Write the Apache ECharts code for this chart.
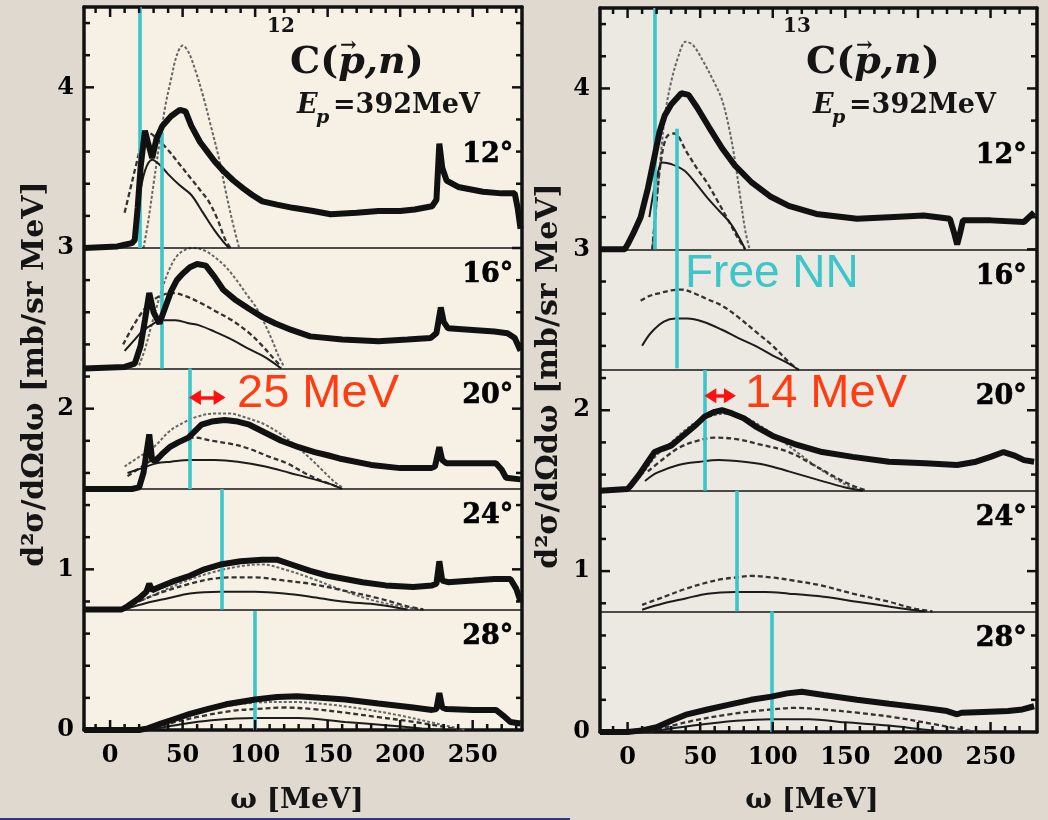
<!DOCTYPE html>
<html><head><meta charset="utf-8">
<script src="https://cdn.jsdelivr.net/npm/echarts@6/dist/echarts.min.js"></script>
<style>html,body{margin:0;padding:0;background:#e0d9cf}#c{width:1048px;height:820px}</style>
</head><body><div id="c"></div>
<script>
// ---- labels / categories ----
const angles = ['12°','16°','20°','24°','28°'];
const baselines = [3.0, 2.25, 1.5, 0.75, 0];
const xTickVals = [-10,0,10,20,30,40,50,60,70,80,90,100,110,120,130,140,150,160,170,180,190,200,210,220,230,240,250,260,270,280];
const yTickVals = [0,0.2,0.4,0.6,0.8,1,1.2,1.4,1.6,1.8,2,2.2,2.4,2.6,2.8,3,3.2,3.4,3.6,3.8,4,4.2,4.4];

// ---- 12C(p,n) : [omega, value] ----
const L12data = [[-18,3.0],[5,3.01],[10,3.02],[15,3.03],[17,3.05],[19,3.25],[21,3.5],[24,3.73],[26,3.66],[29,3.56],[32,3.68],[36,3.76],[42,3.82],[48,3.86],[52,3.85],[56,3.76],[62,3.66],[67,3.6],[72,3.54],[78,3.48],[85,3.42],[92,3.37],[98,3.33],[105,3.29],[115,3.27],[126,3.25],[140,3.23],[152,3.21],[170,3.22],[185,3.23],[200,3.23],[210,3.24],[222,3.26],[225,3.3],[227,3.65],[229,3.5],[232,3.42],[240,3.38],[257,3.35],[270,3.34],[279,3.34],[281,3.25],[283,3.12]];
const L12dot  = [[23,3.0],[26,3.15],[30,3.4],[34,3.65],[38,3.88],[42,4.05],[46,4.2],[50,4.26],[54,4.22],[59,4.1],[64,3.95],[70,3.74],[75,3.56],[80,3.34],[85,3.14],[89,3.0]];
const L12dash = [[10,3.22],[14,3.37],[18,3.52],[22,3.66],[25,3.72],[30,3.7],[39,3.62],[48,3.52],[56,3.43],[63,3.35],[68,3.29],[74,3.18],[79,3.06],[83,3.0]];
const L12sol  = [[20,3.3],[24,3.48],[29,3.55],[34,3.52],[40,3.46],[48,3.39],[56,3.33],[64,3.22],[72,3.11],[78,3.04],[82,3.0]];

const L16data = [[-18,2.25],[10,2.26],[17,2.28],[21,2.39],[24,2.55],[27,2.72],[30,2.6],[34,2.53],[38,2.63],[42,2.73],[46,2.8],[50,2.84],[55,2.88],[60,2.9],[66,2.89],[72,2.82],[78,2.74],[86,2.68],[96,2.62],[105,2.57],[114,2.53],[125,2.49],[138,2.45],[160,2.43],[185,2.42],[205,2.43],[221,2.44],[225,2.47],[228,2.63],[230,2.54],[233,2.5],[250,2.49],[265,2.48],[274,2.47],[279,2.44],[283,2.36]];
const L16dot  = [[20,2.27],[24,2.37],[28,2.5],[32,2.63],[36,2.75],[41,2.87],[46,2.95],[52,2.99],[58,3.0],[66,2.98],[74,2.93],[80,2.88],[88,2.79],[95,2.7],[100,2.64],[106,2.54],[112,2.42],[116,2.33],[120,2.26]];
const L16dash = [[9,2.4],[15,2.5],[22,2.6],[28,2.66],[34,2.7],[43,2.72],[52,2.7],[62,2.66],[72,2.61],[84,2.55],[96,2.47],[104,2.4],[112,2.32],[118,2.26]];
const L16sol  = [[10,2.36],[16,2.42],[22,2.48],[30,2.53],[36,2.55],[45,2.55],[55,2.53],[61,2.52],[72,2.48],[84,2.43],[96,2.37],[105,2.33],[112,2.29],[118,2.25]];

const L20data = [[-18,1.5],[15,1.5],[20,1.51],[23,1.6],[25,1.72],[27,1.84],[29,1.68],[32,1.68],[36,1.72],[41,1.76],[47,1.79],[54,1.82],[63,1.9],[70,1.92],[79,1.93],[88,1.92],[96,1.9],[107,1.85],[118,1.8],[130,1.76],[141,1.73],[150,1.71],[158,1.69],[180,1.65],[200,1.63],[221,1.63],[224,1.64],[227,1.76],[229,1.68],[232,1.66],[250,1.66],[266,1.66],[270,1.62],[273,1.57],[283,1.56]];
const L20dot  = [[10,1.64],[20,1.7],[30,1.76],[41,1.86],[50,1.91],[60,1.95],[72,1.97],[82,1.97],[95,1.94],[107,1.9],[118,1.84],[128,1.77],[138,1.69],[146,1.62],[154,1.55],[160,1.51]];
const L20dash = [[12,1.58],[22,1.64],[32,1.7],[42,1.76],[50,1.8],[58,1.82],[70,1.8],[84,1.78],[96,1.75],[110,1.7],[122,1.66],[134,1.6],[146,1.55],[158,1.51]];
const L20sol  = [[12,1.6],[22,1.63],[32,1.66],[42,1.67],[55,1.68],[72,1.68],[88,1.67],[107,1.64],[124,1.6],[141,1.56],[152,1.53],[160,1.5]];

const L24data = [[-18,0.75],[8,0.75],[12,0.77],[20,0.82],[25,0.86],[27,0.91],[29,0.87],[34,0.89],[45,0.93],[55,0.96],[65,1.0],[76,1.03],[90,1.05],[105,1.06],[115,1.06],[125,1.03],[138,0.99],[150,0.96],[162,0.94],[174,0.92],[190,0.9],[209,0.89],[222,0.9],[225,0.91],[227,1.05],[229,0.93],[233,0.92],[250,0.93],[265,0.94],[276,0.94],[280,0.88],[283,0.8]];
const L24dot  = [[10,0.76],[30,0.84],[50,0.92],[70,0.98],[90,1.02],[105,1.03],[120,1.0],[140,0.94],[160,0.87],[180,0.81],[200,0.77],[215,0.75]];
const L24dash = [[10,0.76],[25,0.82],[40,0.87],[55,0.91],[70,0.94],[85,0.95],[100,0.95],[120,0.93],[138,0.91],[160,0.87],[185,0.82],[205,0.77],[216,0.75]];
const L24sol  = [[10,0.75],[25,0.79],[40,0.82],[55,0.85],[76,0.86],[100,0.86],[120,0.85],[138,0.83],[160,0.8],[185,0.78],[205,0.75]];

const L28data = [[-18,0],[20,0],[26,0.01],[35,0.04],[45,0.07],[55,0.1],[67,0.13],[80,0.16],[100,0.19],[115,0.205],[129,0.21],[145,0.2],[162,0.19],[185,0.165],[209,0.14],[222,0.125],[225,0.13],[227,0.23],[229,0.14],[232,0.13],[250,0.125],[266,0.125],[271,0.09],[276,0.05],[283,0.04]];
const L28dot  = [[26,0],[50,0.08],[75,0.14],[100,0.17],[125,0.175],[150,0.16],[175,0.13],[200,0.09],[225,0.04],[245,0.0]];
const L28dash = [[26,0],[45,0.05],[65,0.09],[85,0.12],[100,0.13],[120,0.14],[140,0.13],[160,0.11],[185,0.08],[210,0.05],[230,0.02],[242,0]];
const L28sol  = [[26,0],[45,0.03],[70,0.06],[100,0.075],[130,0.075],[162,0.05],[190,0.03],[215,0.01],[230,0]];

// ---- 13C(p,n) ----
const R12data = [[-19,3.0],[-2,3.0],[0,3.03],[4,3.1],[9,3.2],[14,3.38],[18.6,3.58],[22,3.73],[25.5,3.83],[30,3.9],[37,3.97],[42,3.96],[48,3.88],[56,3.76],[65,3.63],[74,3.52],[85,3.42],[98,3.33],[111,3.27],[130,3.22],[158,3.19],[180,3.2],[204,3.21],[222,3.19],[225,3.1],[227,3.03],[229,3.1],[231,3.18],[250,3.18],[273,3.17],[280,3.23]];
const R12dot  = [[17,3.0],[19,3.2],[21,3.4],[23,3.6],[26,3.85],[30,4.04],[35,4.2],[40,4.29],[45,4.27],[52,4.17],[59,4.05],[65,3.93],[70,3.75],[74,3.55],[78,3.3],[81,3.12],[84,3.0]];
const R12dash = [[17,3.0],[20,3.3],[23,3.55],[27,3.7],[32,3.72],[41,3.6],[48,3.5],[55,3.41],[62,3.3],[70,3.17],[76,3.07],[81,3.0]];
const R12sol  = [[15,3.2],[18,3.36],[21,3.48],[24,3.54],[30,3.53],[39,3.49],[47,3.41],[55,3.32],[63,3.24],[71,3.16],[77,3.07],[81,3.0]];

const R16dash = [[9,2.68],[15,2.71],[23,2.73],[30,2.745],[37,2.75],[45,2.73],[55,2.69],[65,2.65],[76,2.58],[88,2.49],[100,2.4],[111,2.3],[118,2.25]];
const R16sol  = [[10,2.4],[16,2.48],[25,2.55],[33,2.57],[41,2.57],[52,2.55],[65,2.5],[76,2.45],[88,2.4],[100,2.34],[111,2.29],[118,2.25]];

const R20data = [[-19,1.5],[0,1.51],[2,1.53],[8,1.6],[14,1.68],[18.6,1.74],[24,1.76],[30,1.78],[38,1.84],[46,1.9],[53,1.96],[60,1.99],[65,2.0],[72,1.98],[80,1.95],[88,1.9],[100,1.84],[115,1.79],[134,1.74],[155,1.71],[180,1.68],[205,1.67],[227,1.66],[240,1.68],[250,1.71],[259,1.74],[266,1.72],[273,1.69],[280,1.68]];
const R20dot  = [[10,1.6],[20,1.72],[30,1.8],[40,1.88],[50,1.94],[60,1.97],[70,1.98],[80,1.96],[92,1.9],[105,1.82],[118,1.73],[130,1.65],[142,1.58],[152,1.53],[160,1.5]];
const R20dash = [[14,1.62],[25,1.7],[36,1.77],[48,1.81],[60,1.83],[75,1.82],[90,1.79],[111,1.74],[128,1.66],[146,1.57],[158,1.52],[165,1.5]];
const R20sol  = [[12,1.56],[20,1.61],[35,1.66],[50,1.68],[63,1.69],[80,1.68],[95,1.66],[111,1.62],[130,1.57],[150,1.52],[162,1.5]];

const R24dash = [[10,0.79],[25,0.84],[40,0.89],[55,0.93],[65,0.95],[74,0.96],[85,0.97],[100,0.96],[115,0.94],[134,0.91],[155,0.86],[180,0.81],[196,0.77],[210,0.75]];
const R24sol  = [[10,0.76],[25,0.8],[40,0.83],[55,0.86],[74,0.87],[95,0.87],[111,0.86],[135,0.84],[158,0.81],[180,0.78],[195,0.76],[205,0.75]];

const R28data = [[-19,0],[0,0],[10,0.01],[20,0.03],[30,0.07],[41,0.11],[55,0.14],[70,0.17],[85,0.2],[99,0.22],[110,0.24],[120,0.25],[135,0.23],[158,0.2],[180,0.175],[204,0.15],[220,0.13],[227,0.11],[230,0.12],[245,0.125],[262,0.13],[272,0.14],[280,0.16]];
const R28dash = [[15,0],[40,0.06],[70,0.11],[99,0.14],[115,0.15],[135,0.14],[158,0.12],[185,0.09],[210,0.05],[228,0.02],[240,0]];
const R28sol  = [[15,0],[45,0.04],[75,0.07],[99,0.08],[125,0.08],[150,0.06],[180,0.04],[210,0.01],[230,0]];

// free NN positions: [omega, yFrom, yTo]
const cyanL = [[20.4,4.5,3.0],[35.4,3.72,2.25],[54.9,2.25,1.5],[76.7,1.5,0.75],[100,0.74,0]];
const cyanR = [[18.8,4.5,3.0],[33.7,3.75,2.26],[53,2.25,1.5],[75,1.5,0.75],[99,0.75,0]];
const shiftL = [[58.5,2.07],[75.5,2.07]];
const shiftR = [[57,2.09],[70.5,2.09]];

// ---- build ----
const INK = '#151515';
const SERIF = '"DejaVu Serif"';
const styles = {
  data:{color:'#111', width:6},
  dot:{color:'#666', width:2, type:[3,2]},
  dash:{color:'#333', width:2.3, type:[5,3]},
  sol:{color:'#1c1c1c', width:2}
};
const series = [];
function add(g, data, kind){
  series.push({type:'line', xAxisIndex:g*2, yAxisIndex:g*2, data, symbol:'none', silent:true,
    smooth: kind==='data' ? false : 0.35, lineStyle:styles[kind], z: kind==='data'?5:3});
}
add(0,L12dot,'dot');add(0,L12dash,'dash');add(0,L12sol,'sol');add(0,L12data,'data');
add(0,L16dot,'dot');add(0,L16dash,'dash');add(0,L16sol,'sol');add(0,L16data,'data');
add(0,L20dot,'dot');add(0,L20dash,'dash');add(0,L20sol,'sol');add(0,L20data,'data');
add(0,L24dot,'dot');add(0,L24dash,'dash');add(0,L24sol,'sol');add(0,L24data,'data');
add(0,L28dot,'dot');add(0,L28dash,'dash');add(0,L28sol,'sol');add(0,L28data,'data');
add(1,R12dot,'dot');add(1,R12dash,'dash');add(1,R12sol,'sol');add(1,R12data,'data');
add(1,R16dash,'dash');add(1,R16sol,'sol');
add(1,R20dot,'dot');add(1,R20dash,'dash');add(1,R20sol,'sol');add(1,R20data,'data');
add(1,R24dash,'dash');add(1,R24sol,'sol');
add(1,R28dash,'dash');add(1,R28sol,'sol');add(1,R28data,'data');

// frame ticks drawn through the axis scales (inside, on all four sides)
function ticks(g){
  series.push({type:'custom', xAxisIndex:g*2, yAxisIndex:g*2, silent:true, z:7, clip:false,
    data: xTickVals.map(v=>[v, 0]),
    renderItem:(params, api)=>{
      const v = api.value(0), cs = params.coordSys;
      const x = api.coord([v, 0])[0];
      if (x < cs.x + 3 || x > cs.x + cs.width - 3) return;
      const len = (v % 50 === 0) ? 10 : 6;
      const b = cs.y + cs.height, t = cs.y;
      return {type:'group', children:[
        {type:'line', shape:{x1:x, y1:b, x2:x, y2:b-len}, style:{stroke:'#111', lineWidth:2.5}},
        {type:'line', shape:{x1:x, y1:t, x2:x, y2:t+len}, style:{stroke:'#111', lineWidth:2.5}}]};
    }});
  series.push({type:'custom', xAxisIndex:g*2, yAxisIndex:g*2, silent:true, z:7, clip:false,
    data: yTickVals.map(v=>[0, v]),
    renderItem:(params, api)=>{
      const v = api.value(1), cs = params.coordSys;
      const y = api.coord([0, v])[1];
      if (y < cs.y + 3 || y > cs.y + cs.height - 3) return;
      const len = (Math.abs(v - Math.round(v)) < 1e-6) ? 10 : 6;
      const l = cs.x, r = cs.x + cs.width;
      return {type:'group', children:[
        {type:'line', shape:{x1:l, y1:y, x2:l+len, y2:y}, style:{stroke:'#111', lineWidth:2.5}},
        {type:'line', shape:{x1:r, y1:y, x2:r-len, y2:y}, style:{stroke:'#111', lineWidth:2.5}}]};
    }});
}
ticks(0); ticks(1);

function overlay(g, cyan, shift){
  series.push({type:'line', xAxisIndex:g*2, yAxisIndex:g*2, data:[], silent:true, z:8,
    markLine:{silent:true, symbol:'none', animation:false, label:{show:false},
      data:[
        ...baselines.slice(0,4).map(b=>({yAxis:b, lineStyle:{color:INK, width:1.6, type:'solid'}})),
        ...cyan.map(c=>[{coord:[c[0],c[1]], lineStyle:{color:'#3cc6c9', width:3.6, type:'solid'}},{coord:[c[0],c[2]]}])
      ]}});
  series.push({type:'line', xAxisIndex:g*2, yAxisIndex:g*2, data:[], silent:true, z:9,
    markLine:{silent:true, symbol:['triangle','triangle'], symbolSize:[15,12], animation:false, label:{show:false},
      lineStyle:{color:'#ff1010', width:3.5, type:'solid'},
      data:[[{coord:shift[0]},{coord:shift[1]}]]}});
  series.push({type:'scatter', xAxisIndex:g*2, yAxisIndex:g*2, silent:true, symbolSize:0,
    itemStyle:{color:INK, opacity:1},
    data: angles.map((a,i)=>({name:a, value:[g===0?278:275, baselines[i]+0.58]})),
    label:{show:true, position:'left', distance:0, formatter:p=>p.name, opacity:1,
      fontFamily:SERIF, fontWeight:'bold', fontSize:27, color:'#000', textBorderColor:'#000', textBorderWidth:0.6}});
}
overlay(0, cyanL, shiftL);
overlay(1, cyanR, shiftR);

const labelFont = {fontFamily:SERIF, fontWeight:'bold', fontSize:24, color:'#000'};
function xAx(g, pos, min, max){
  return {type:'value', gridIndex:g, position:pos, min, max, splitNumber:6,
    axisLine:{show:true, onZero:false, lineStyle:{color:'#111', width:3.5}},
    axisTick:{show:false}, minorTick:{show:false},
    axisLabel: pos==='bottom' ? Object.assign({margin:14, showMinLabel:false, showMaxLabel:false}, labelFont) : {show:false},
    splitLine:{show:false}};
}
function yAx(g, pos){
  return {type:'value', gridIndex:g, position:pos, min:0, max:4.5, interval:1,
    axisLine:{show:true, onZero:false, lineStyle:{color:'#111', width:3.5}},
    axisTick:{show:false}, minorTick:{show:false},
    axisLabel: pos==='left' ? Object.assign({margin:10, showMaxLabel:false}, labelFont) : {show:false},
    splitLine:{show:false}};
}

const T = (x,y,text,font,extra)=>Object.assign({type:'text', x, y, silent:true,
  style:Object.assign({text, font, fill:INK, align:'left', verticalAlign:'middle'}, extra||{})});
function titleBlock(x0, iso){
  return [
    T(x0-23, 27, iso, 'bold 20px '+SERIF),
    T(x0, 63, '{a|C(}{b|p,n}{a|)}', 'bold 38px '+SERIF, {rich:{a:{font:'bold 38px '+SERIF, fill:INK}, b:{font:'italic bold 38px '+SERIF, fill:INK}}}),
    T(x0+50, 46, '→', 'bold 20px '+SERIF),
    T(x0+7, 106, 'E', 'italic bold 27px '+SERIF),
    T(x0+26, 118, 'p', 'italic bold 19px '+SERIF),
    T(x0+43, 106, '=392MeV', 'bold 27px '+SERIF)
  ];
}
const yName = 'd²σ/dΩdω [mb/sr MeV]';
const yNameL = T(35, 374, yName, 'bold 30px '+SERIF, {align:'center'});
const yNameR = T(549, 376, yName, 'bold 30px '+SERIF, {align:'center'});
yNameL.rotation = Math.PI/2;
yNameR.rotation = Math.PI/2;
const graphic = [
  ...titleBlock(290, '12'),
  ...titleBlock(806, '13'),
  yNameL, yNameR,
  T(297, 801, 'ω [MeV]', 'bold 28px '+SERIF, {align:'center'}),
  T(812, 801, 'ω [MeV]', 'bold 28px '+SERIF, {align:'center'}),
  T(237, 394, '25 MeV', '47px "Liberation Sans"', {fill:'#ff3c12'}),
  T(745, 394, '14 MeV', '47px "Liberation Sans"', {fill:'#ff3c12'}),
  T(685, 274, 'Free NN', '46px "Liberation Sans"', {fill:'#3cc6c9'}),
  {type:'line', silent:true, shape:{x1:0,y1:819,x2:570,y2:819}, style:{stroke:'#33338a', lineWidth:2}}
];

const chart = echarts.init(document.getElementById('c'), null, {renderer:'canvas'});
chart.setOption({
  animation:false,
  backgroundColor:'#e0d9cf',
  grid:[
    {left:84, right:526, top:7, bottom:90, show:true, backgroundColor:'#f6f1e4', borderWidth:0},
    {left:600, right:11, top:8, bottom:88, show:true, backgroundColor:'#ece9e3', borderWidth:0}
  ],
  xAxis:[xAx(0,'bottom',-18,284), xAx(0,'top',-18,284), xAx(1,'bottom',-19,282), xAx(1,'top',-19,282)],
  yAxis:[yAx(0,'left'), yAx(0,'right'), yAx(1,'left'), yAx(1,'right')],
  series,
  graphic
});
</script>
</body></html>
